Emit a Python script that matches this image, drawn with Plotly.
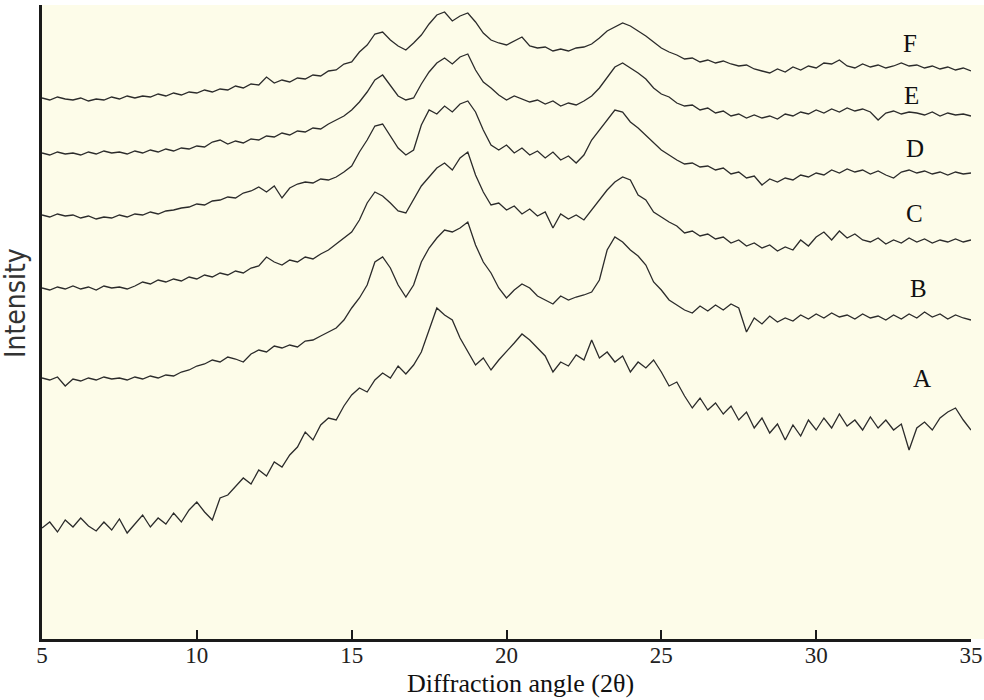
import plotly.graph_objects as go

# 2-theta grid (degrees), 0.25 deg steps from 5 to 35
two_theta = [5 + 0.25 * i for i in range(121)]

curve_A = [111, 117, 107, 119, 112, 121, 113, 108, 117, 109,
           120, 106, 115, 124, 112, 121, 115, 126, 117, 129,
           137, 127, 119, 141, 144, 152, 161, 155, 169, 163,
           177, 172, 184, 192, 207, 199, 214, 221, 219, 233,
           244, 251, 247, 259, 266, 261, 273, 265, 274, 287,
           309, 331, 324, 319, 301, 287, 274, 281, 269, 279,
           287, 296, 305, 299, 291, 283, 267, 277, 273, 284,
           279, 299, 281, 287, 277, 283, 267, 277, 271, 279,
           267, 253, 257, 243, 231, 241, 229, 236, 225, 233,
           219, 227, 211, 221, 206, 215, 199, 214, 203, 219,
           209, 221, 211, 225, 213, 219, 209, 222, 211, 219,
           209, 215, 189, 211, 217, 209, 221, 227, 231, 219, 209]

curve_B = [261, 259, 262, 253, 260, 258, 261, 259, 262, 260,
           261, 259, 262, 260, 263, 261, 264, 263, 267, 269,
           273, 275, 279, 277, 282, 280, 277, 285, 289, 287,
           293, 291, 294, 292, 298, 299, 303, 307, 311, 319,
           331, 341, 354, 377, 382, 371, 354, 342, 354, 377,
           391, 401, 409, 407, 411, 417, 394, 377, 366, 351,
           341, 349, 355, 351, 343, 339, 335, 343, 339, 342,
           344, 347, 359, 389, 402, 397, 389, 383, 374, 357,
           349, 339, 334, 329, 326, 333, 328, 334, 329, 335,
           331, 307, 321, 315, 323, 317, 321, 318, 324, 320,
           325, 321, 326, 322, 324, 320, 325, 321, 323, 319,
           324, 320, 325, 321, 327, 322, 325, 320, 324, 321, 319]

curve_C = [351, 349, 352, 350, 353, 350, 352, 349, 353, 351,
           352, 350, 353, 357, 355, 359, 357, 360, 358, 362,
           360, 364, 362, 366, 364, 368, 366, 371, 373, 382,
           377, 374, 379, 377, 382, 380, 385, 389, 395, 401,
           407, 419, 436, 447, 443, 436, 428, 426, 439, 453,
           462, 471, 476, 469, 481, 487, 464, 447, 434, 436,
           429, 433, 425, 430, 423, 427, 411, 425, 420, 424,
           419, 429, 439, 449, 457, 462, 459, 444, 439, 427,
           422, 417, 413, 406, 408, 403, 405, 400, 402, 396,
           399, 393, 396, 391, 394, 388, 392, 389, 399, 393,
           402, 407, 399, 408, 401, 405, 399, 397, 401, 395,
           399, 396, 401, 397, 400, 396, 399, 397, 400, 397, 399]

curve_D = [424, 422, 425, 423, 424, 421, 423, 420, 422, 421,
           424, 422, 425, 424, 427, 425, 428, 429, 431, 432,
           435, 434, 438, 439, 442, 441, 446, 448, 452, 447,
           453, 441, 451, 455, 457, 456, 460, 459, 462, 467,
           473, 487, 499, 513, 515, 503, 491, 484, 489, 514,
           529, 525, 533, 527, 535, 538, 527, 509, 494, 489,
           494, 486, 491, 484, 488, 481, 487, 479, 483, 476,
           484, 499, 509, 519, 529, 527, 517, 511, 504, 497,
           489, 484, 479, 475, 476, 472, 473, 469, 471, 465,
           467, 461, 463, 454, 460, 457, 461, 459, 464, 462,
           466, 464, 469, 466, 470, 467, 469, 465, 468, 464,
           461, 467, 469, 466, 468, 465, 467, 464, 467, 465, 466]

curve_E = [486, 484, 487, 485, 486, 484, 487, 485, 488, 486,
           487, 485, 488, 486, 489, 487, 490, 488, 491, 490,
           493, 492, 497, 499, 495, 498, 496, 500, 499, 503,
           502, 506, 504, 508, 507, 511, 510, 515, 519, 523,
           529, 537, 547, 559, 564, 553, 543, 539, 541, 555,
           567, 576, 581, 575, 582, 585, 569, 557, 551, 544,
           539, 543, 540, 537, 539, 535, 538, 533, 536, 534,
           538, 543, 551, 562, 572, 576, 571, 566, 560, 551,
           545, 542, 536, 533, 534, 529, 531, 526, 528, 523,
           525, 521, 524, 521, 523, 520, 525, 523, 527, 525,
           529, 526, 530, 527, 531, 528, 530, 527, 519, 526,
           528, 525, 527, 526, 524, 527, 523, 526, 524, 525, 523]

curve_F = [541, 539, 542, 540, 539, 541, 538, 540, 539, 542,
           540, 543, 541, 543, 542, 545, 543, 546, 544, 547,
           546, 549, 547, 550, 549, 553, 551, 555, 554, 562,
           556, 559, 557, 561, 560, 564, 563, 568, 569, 575,
           577, 587, 594, 605, 607, 599, 593, 589, 596, 604,
           615, 624, 627, 618, 623, 626, 617, 606, 599, 596,
           594, 598, 602, 593, 591, 592, 588, 590, 588, 591,
           592, 595, 601, 608, 612, 616, 613, 608, 603, 597,
           591, 587, 584, 580, 581, 577, 579, 576, 578, 575,
           573, 574, 570, 568, 566, 570, 567, 572, 569, 573,
           571, 576, 575, 579, 573, 571, 575, 572, 574, 571,
           573, 576, 573, 574, 571, 573, 570, 572, 569, 571, 568]

series_names = ["A", "B", "C", "D", "E", "F"]
series_values = [curve_A, curve_B, curve_C, curve_D, curve_E, curve_F]
x_ticks = [5, 10, 15, 20, 25, 30, 35]

BG = "#FDFCE9"
serif = "Liberation Serif, Times New Roman, serif"

fig = go.Figure()
for name, vals in zip(series_names, series_values):
    fig.add_trace(go.Scatter(x=two_theta, y=vals, mode="lines", name=name,
                             line=dict(color="#2b2b2b", width=1.3),
                             showlegend=False))

label_pos = {"F": (33.03, 596), "E": (33.09, 544), "D": (33.19, 491),
             "C": (33.19, 426), "B": (33.29, 351), "A": (33.41, 261)}
for name in series_names:
    lx, ly = label_pos[name]
    fig.add_annotation(x=lx, y=ly, text=name, showarrow=False,
                       font=dict(family=serif, size=25, color="#111111"))

# axis titles placed where the reference shows them
fig.add_annotation(xref="paper", yref="paper", x=0.5156, y=-0.0962,
                   xanchor="center", yanchor="bottom", showarrow=False,
                   text="Diffraction angle (2θ)",
                   font=dict(family=serif, size=26, color="#111111"))
fig.add_annotation(xref="paper", yref="paper", x=-0.028, y=0.53,
                   xanchor="center", yanchor="middle", showarrow=False,
                   textangle=-90, text="Intensity",
                   font=dict(family="Liberation Sans Narrow, DejaVu Sans Condensed, Liberation Sans, sans-serif",
                             size=28, color="#333333"))

# yellow canvas continues to the right edge of the picture
fig.add_shape(type="rect", xref="paper", yref="paper", x0=1, x1=1.02, y0=0, y1=1,
              fillcolor=BG, line=dict(width=0), layer="below")

fig.update_layout(
    width=984, height=700,
    margin=dict(l=42, r=13, t=5, b=61),
    paper_bgcolor="white",
    plot_bgcolor=BG,
    xaxis=dict(range=[5, 35], tickvals=x_ticks, ticktext=[str(t) for t in x_ticks],
               automargin=False,
               showgrid=False, zeroline=False,
               showline=True, linecolor="#1a1a1a", linewidth=3,
               ticks="inside", ticklen=9, tickwidth=2, tickcolor="#1a1a1a",
               ticklabelstandoff=-7, ticklabeloverflow="allow",
               tickfont=dict(family=serif, size=23, color="#222222")),
    yaxis=dict(range=[0, 634], showgrid=False, zeroline=False,
               automargin=False,
               showticklabels=False, ticks="",
               showline=True, linecolor="#1a1a1a", linewidth=3),
)

fig.write_html("out.html")
